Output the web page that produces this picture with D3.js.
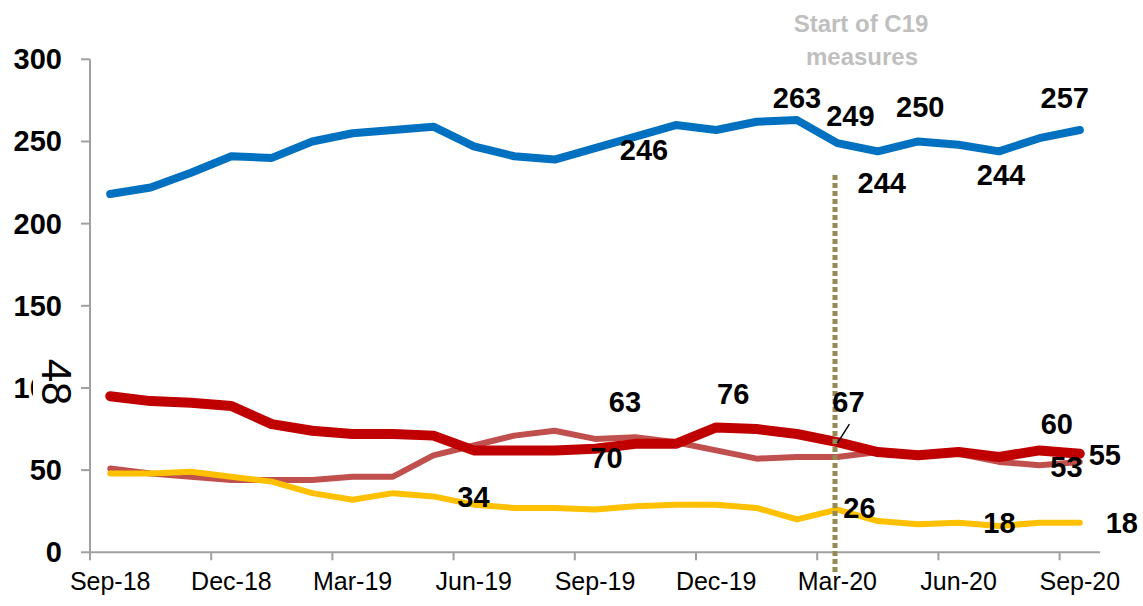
<!DOCTYPE html>
<html>
<head>
<meta charset="utf-8">
<script src="https://d3js.org/d3.v7.min.js"></script>
<style>
  body { margin: 0; background: #fff; }
  svg { display: block; font-family: "Liberation Sans", Arial, sans-serif; }
</style>
</head>
<body>
<svg id="chart" width="1143" height="606"></svg>
<script>
// months on the category axis
let months = ['Sep-18', 'Oct-18', 'Nov-18', 'Dec-18', 'Jan-19', 'Feb-19', 'Mar-19', 'Apr-19', 'May-19',
    'Jun-19', 'Jul-19', 'Aug-19', 'Sep-19', 'Oct-19', 'Nov-19', 'Dec-19', 'Jan-20', 'Feb-20',
    'Mar-20', 'Apr-20', 'May-20', 'Jun-20', 'Jul-20', 'Aug-20', 'Sep-20'];

let yTicks = [0, 50, 100, 150, 200, 250, 300];

// series values
let blueValues = [218, 222, 231, 241, 240, 250, 255, 257, 259, 247, 241, 239, 246, 253, 260, 257, 262, 263, 249, 244, 250, 248, 244, 252, 257];
let darkRedValues = [95, 92, 91, 89, 78, 74, 72, 72, 71, 62, 62, 62, 63, 66, 66, 76, 75, 72, 67, 61, 59, 61, 58, 62, 60];
let lightRedValues = [51, 48, 46, 44, 44, 44, 46, 46, 59, 65, 71, 74, 69, 70, 67, 62, 57, 58, 58, 61, 59, 60, 55, 53, 55];
let yellowValues = [48, 48, 49, 46, 43, 36, 32, 36, 34, 29, 27, 27, 26, 28, 29, 29, 27, 20, 26, 19, 17, 18, 16, 18, 18];

// data labels: series, month index, text
let labels = [
    { s: 'blue', i: 12, t: '246', dx: 49, dy: 12 },
    { s: 'blue', i: 17, t: '263', dx: 0, dy: -12 },
    { s: 'blue', i: 18, t: '249', dx: 13, dy: -17 },
    { s: 'blue', i: 19, t: '244', dx: 4, dy: 42 },
    { s: 'blue', i: 20, t: '250', dx: 2, dy: -24 },
    { s: 'blue', i: 22, t: '244', dx: 2, dy: 34 },
    { s: 'blue', i: 24, t: '257', dx: -15, dy: -22 },
    { s: 'darkRed', i: 12, t: '63', dx: 30, dy: -37 },
    { s: 'darkRed', i: 15, t: '76', dx: 17, dy: -23 },
    { s: 'darkRed', i: 18, t: '67', dx: 11, dy: -30 },
    { s: 'darkRed', i: 24, t: '60', dx: -23, dy: -20 },
    { s: 'lightRed', i: 13, t: '70', dx: -29, dy: 31 },
    { s: 'lightRed', i: 23, t: '53', dx: 27, dy: 12 },
    { s: 'lightRed', i: 24, t: '55', dx: 25, dy: 3 },
    { s: 'yellow', i: 8, t: '34', dx: 40, dy: 11 },
    { s: 'yellow', i: 18, t: '26', dx: 22, dy: 8 },
    { s: 'yellow', i: 23, t: '18', dx: -40, dy: 10 },
    { s: 'yellow', i: 24, t: '18', dx: 42, dy: 10 }
];

let series = {
    lightRed: { values: lightRedValues, color: '#C0504D', width: 6 },
    yellow: { values: yellowValues, color: '#FFC000', width: 6 },
    darkRed: { values: darkRedValues, color: '#C00000', width: 10 },
    blue: { values: blueValues, color: '#0070C0', width: 8 }
};

let svg = d3.select('#chart');

let x = d3.scaleBand()
    .domain(months)
    .range([90, 1100]);

let y = d3.scaleLinear()
    .domain([0, 300])
    .range([552.3, 59.3]);

let cx = function(i) { return x(months[i]) + x.bandwidth() / 2; };

let axisColor = '#A0A0A0';

// y axis
svg.append('line')
    .attr('x1', 90).attr('x2', 90)
    .attr('y1', y(300)).attr('y2', y(0))
    .attr('stroke', axisColor)
    .attr('stroke-width', 2);

svg.append('g')
    .selectAll('line')
    .data(yTicks)
    .enter()
    .append('line')
    .attr('x1', 81).attr('x2', 90)
    .attr('y1', d => y(d)).attr('y2', d => y(d))
    .attr('stroke', axisColor)
    .attr('stroke-width', 2);

svg.append('g')
    .selectAll('text')
    .data(yTicks)
    .enter()
    .append('text')
    .attr('x', 62)
    .attr('y', d => y(d) + 10)
    .attr('text-anchor', 'end')
    .attr('font-size', 29)
    .attr('font-weight', 'bold')
    .text(d => d);

// x axis
svg.append('line')
    .attr('x1', 90).attr('x2', 1100)
    .attr('y1', y(0)).attr('y2', y(0))
    .attr('stroke', axisColor)
    .attr('stroke-width', 2);

let shownMonths = months.filter((m, i) => i % 3 == 0);

svg.append('g')
    .selectAll('line')
    .data(shownMonths)
    .enter()
    .append('line')
    .attr('x1', d => x(d)).attr('x2', d => x(d))
    .attr('y1', y(0)).attr('y2', y(0) + 8)
    .attr('stroke', axisColor)
    .attr('stroke-width', 2);

svg.append('g')
    .selectAll('text')
    .data(shownMonths)
    .enter()
    .append('text')
    .attr('x', d => x(d) + x.bandwidth() / 2)
    .attr('y', 590)
    .attr('text-anchor', 'middle')
    .attr('font-size', 25)
    .text(d => d);

// rotated "48" with its white box, sits over the 100 label
let box = svg.append('g')
    .attr('transform', 'translate(57,382)');
box.append('rect')
    .attr('x', -24).attr('y', -26)
    .attr('width', 44).attr('height', 52)
    .attr('fill', '#fff');
box.append('text')
    .attr('transform', 'rotate(90)')
    .attr('x', 0)
    .attr('y', 15)
    .attr('text-anchor', 'middle')
    .attr('font-size', 42)
    .text('48');

// series lines
let line = d3.line()
    .x((d, i) => cx(i))
    .y(d => y(d));

Object.keys(series).forEach(function(k) {
    svg.append('path')
        .datum(series[k].values)
        .attr('d', line)
        .attr('fill', 'none')
        .attr('stroke', series[k].color)
        .attr('stroke-width', series[k].width)
        .attr('stroke-linejoin', 'round')
        .attr('stroke-linecap', 'round');
});

// C19 marker
let c19 = Math.round(cx(18)) - 2;
svg.append('line')
    .attr('x1', c19).attr('x2', c19)
    .attr('y1', 175).attr('y2', 572)
    .attr('stroke', '#948A54')
    .attr('stroke-width', 5)
    .attr('stroke-dasharray', '5,3');

svg.append('text')
    .attr('x', 861)
    .attr('y', 32)
    .attr('text-anchor', 'middle')
    .attr('font-size', 24)
    .attr('font-weight', 'bold')
    .attr('fill', '#BFBFBF')
    .text('Start of C19');
svg.append('text')
    .attr('x', 862)
    .attr('y', 65)
    .attr('text-anchor', 'middle')
    .attr('font-size', 24)
    .attr('font-weight', 'bold')
    .attr('fill', '#BFBFBF')
    .text('measures');

// leader line for 67
svg.append('line')
    .attr('x1', cx(18) + 12).attr('y1', y(darkRedValues[18]) - 18)
    .attr('x2', cx(18)).attr('y2', y(darkRedValues[18]) + 1)
    .attr('stroke', '#000')
    .attr('stroke-width', 1.5);

// data labels
svg.append('g')
    .selectAll('text')
    .data(labels)
    .enter()
    .append('text')
    .attr('x', d => cx(d.i) + d.dx)
    .attr('y', d => y(series[d.s].values[d.i]) + d.dy)
    .attr('text-anchor', 'middle')
    .attr('font-size', 29)
    .attr('font-weight', 'bold')
    .text(d => d.t);
</script>
</body>
</html>
